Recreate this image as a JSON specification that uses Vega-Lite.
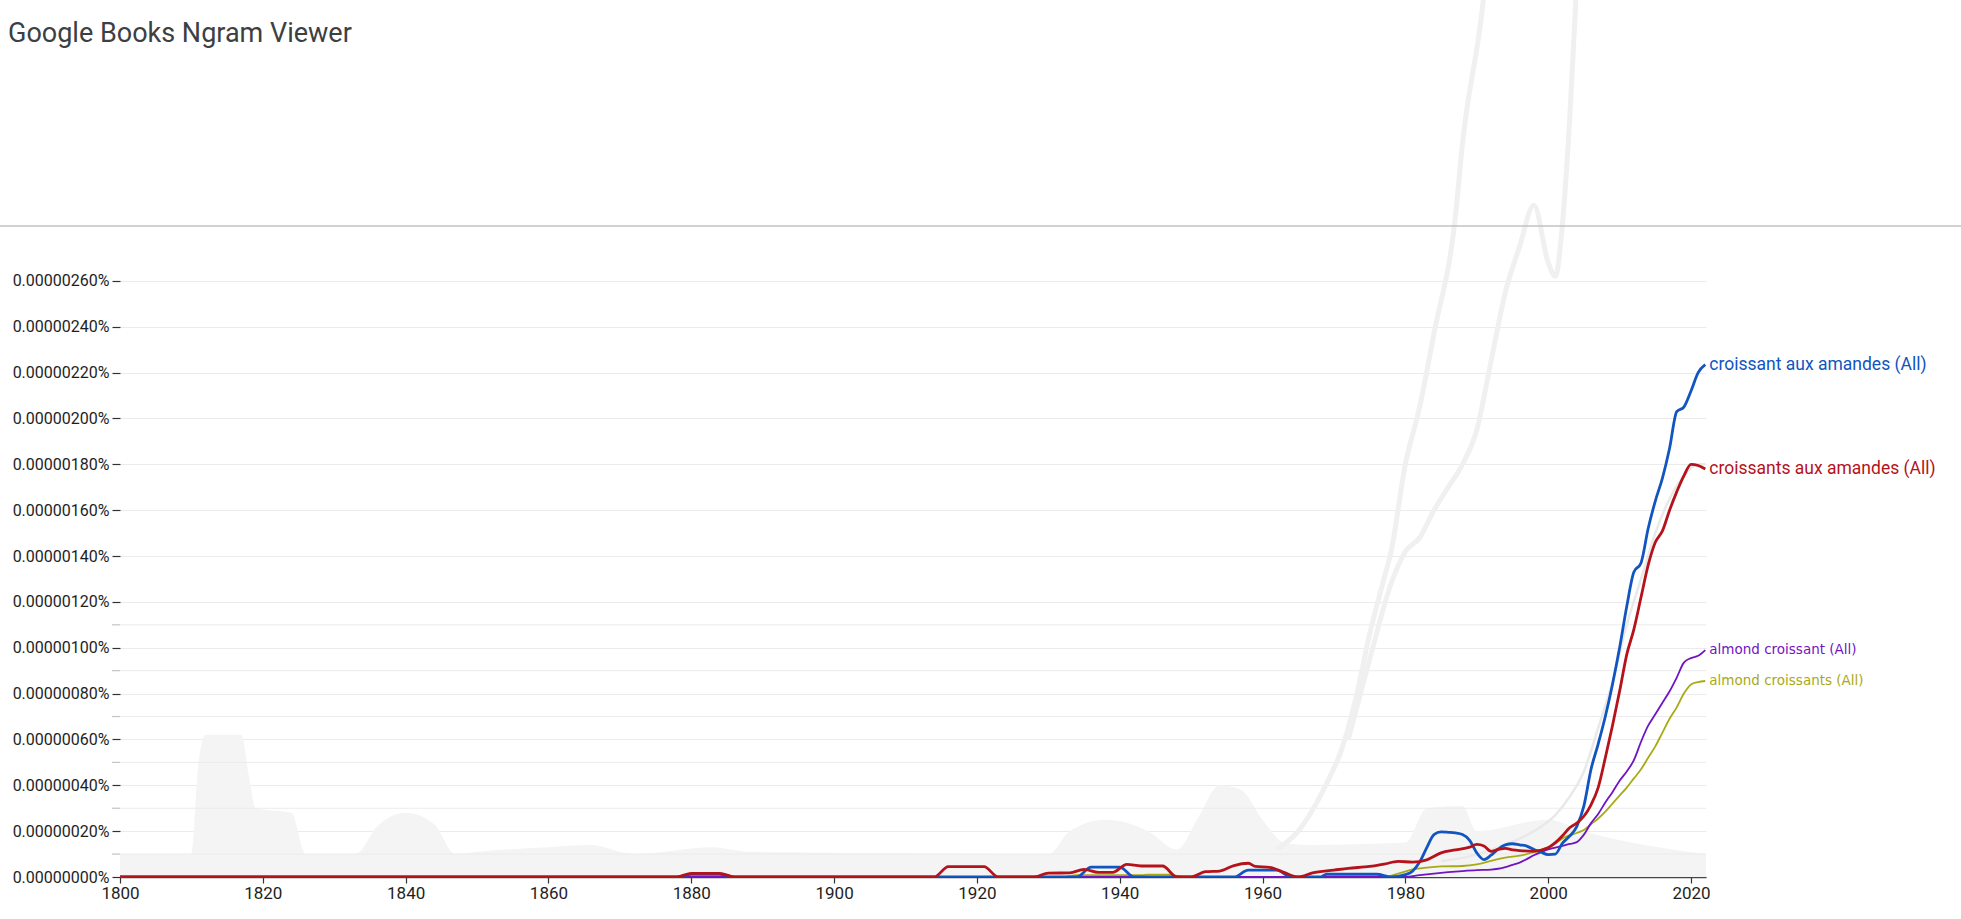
{
"$schema":"https://vega.github.io/schema/vega-lite/v6.json",
"width":1586,"height":877,
"autosize":{"type":"none"},
"padding":{"left":120,"top":0,"right":255,"bottom":42},
"background":"#ffffff",
"title":{"text":"Google Books Ngram Viewer","anchor":"start","frame":"group","dx":-112,"offset":-48,"font":"Roboto","fontSize":27,"fontWeight":"normal","color":"#3c4043"},
"config":{"view":{"stroke":null},"axis":{"labelFont":"Roboto","labelColor":"#1e1e1e","tickColor":"#333333"}},
"datasets":{
"bg":[
{"series":"band","year":1800,"value":1.0e-7},{"series":"band","year":1810,"value":1.0e-7},{"series":"band","year":1811,"value":5.0e-7},{"series":"band","year":1812,"value":6.2e-7},{"series":"band","year":1817,"value":6.2e-7},{"series":"band","year":1818,"value":4.5e-7},{"series":"band","year":1819,"value":3.0e-7},{"series":"band","year":1824,"value":2.8e-7},{"series":"band","year":1826,"value":1.0e-7},{"series":"band","year":1833,"value":1.0e-7},{"series":"band","year":1836,"value":2.2e-7},{"series":"band","year":1840,"value":2.8e-7},{"series":"band","year":1844,"value":2.3e-7},{"series":"band","year":1847,"value":1.0e-7},{"series":"band","year":1850,"value":1.1e-7},{"series":"band","year":1860,"value":1.3e-7},{"series":"band","year":1866,"value":1.4e-7},{"series":"band","year":1872,"value":1.0e-7},{"series":"band","year":1883,"value":1.3e-7},{"series":"band","year":1888,"value":1.1e-7},{"series":"band","year":1930,"value":1.0e-7},{"series":"band","year":1933,"value":2.0e-7},{"series":"band","year":1938,"value":2.5e-7},{"series":"band","year":1944,"value":2.0e-7},{"series":"band","year":1948,"value":1.2e-7},{"series":"band","year":1951,"value":2.6e-7},{"series":"band","year":1954,"value":4.0e-7},{"series":"band","year":1957,"value":3.8e-7},{"series":"band","year":1960,"value":2.5e-7},{"series":"band","year":1963,"value":1.5e-7},{"series":"band","year":1966,"value":1.4e-7},{"series":"band","year":1980,"value":1.5e-7},{"series":"band","year":1983,"value":3.0e-7},{"series":"band","year":1988,"value":3.1e-7},{"series":"band","year":1990,"value":2.0e-7},{"series":"band","year":2000,"value":2.5e-7},{"series":"band","year":2005,"value":2.0e-7},{"series":"band","year":2022.1,"value":1.0e-7},
{"series":"g1","year":1962,"value":1.2e-7},{"series":"g1","year":1965,"value":2.0e-7},{"series":"g1","year":1969,"value":4.1e-7},{"series":"g1","year":1971,"value":5.5e-7},{"series":"g1","year":1973,"value":7.7e-7},{"series":"g1","year":1975,"value":1.06e-6},{"series":"g1","year":1977,"value":1.3e-6},{"series":"g1","year":1978,"value":1.42e-6},{"series":"g1","year":1980,"value":1.8e-6},{"series":"g1","year":1982,"value":2.05e-6},{"series":"g1","year":1984,"value":2.37e-6},{"series":"g1","year":1987,"value":2.88e-6},{"series":"g1","year":1988,"value":3.2e-6},{"series":"g1","year":1991,"value":3.85e-6},{"series":"g1","year":1993,"value":4.6e-6},
{"series":"g2","year":1972,"value":6.0e-7},{"series":"g2","year":1975,"value":9.5e-7},{"series":"g2","year":1978,"value":1.28e-6},{"series":"g2","year":1980,"value":1.42e-6},{"series":"g2","year":1982,"value":1.48e-6},{"series":"g2","year":1984,"value":1.6e-6},{"series":"g2","year":1986,"value":1.7e-6},{"series":"g2","year":1988,"value":1.8e-6},{"series":"g2","year":1990,"value":1.95e-6},{"series":"g2","year":1992,"value":2.25e-6},{"series":"g2","year":1994,"value":2.55e-6},{"series":"g2","year":1996,"value":2.75e-6},{"series":"g2","year":1998,"value":2.93e-6},{"series":"g2","year":2000,"value":2.68e-6},{"series":"g2","year":2001,"value":2.62e-6},{"series":"g2","year":2002,"value":2.85e-6},{"series":"g2","year":2003,"value":3.3e-6},{"series":"g2","year":2004,"value":3.9e-6},{"series":"g2","year":2006,"value":4.8e-6},
{"series":"g3","year":1985,"value":7e-8},{"series":"g3","year":1989,"value":9e-8},{"series":"g3","year":1993,"value":1.3e-7},{"series":"g3","year":1998,"value":2.0e-7},{"series":"g3","year":2001,"value":2.7e-7},{"series":"g3","year":2003,"value":3.5e-7},{"series":"g3","year":2005,"value":4.6e-7},{"series":"g3","year":2007,"value":6.5e-7},{"series":"g3","year":2009,"value":8.5e-7},{"series":"g3","year":2011,"value":1.1e-6},{"series":"g3","year":2013,"value":1.3e-6},{"series":"g3","year":2015,"value":1.5e-6},{"series":"g3","year":2017,"value":1.65e-6},{"series":"g3","year":2019,"value":1.75e-6},{"series":"g3","year":2021,"value":1.8e-6},{"series":"g3","year":2022,"value":1.8e-6}
],
"minor":[{"value":1e-7},{"value":3e-7},{"value":5e-7},{"value":7e-7},{"value":9e-7},{"value":1.1e-6}],
"ngram":[
{"series":"almond croissants (All)","year":1800,"value":0},{"series":"almond croissants (All)","year":1932,"value":0},{"series":"almond croissants (All)","year":1934,"value":8e-9},{"series":"almond croissants (All)","year":1943,"value":8e-9},{"series":"almond croissants (All)","year":1944,"value":1e-8},{"series":"almond croissants (All)","year":1947,"value":1e-8},{"series":"almond croissants (All)","year":1949,"value":0},{"series":"almond croissants (All)","year":1977,"value":0},{"series":"almond croissants (All)","year":1979,"value":1.5e-8},{"series":"almond croissants (All)","year":1981,"value":3.3e-8},{"series":"almond croissants (All)","year":1983,"value":4.1e-8},{"series":"almond croissants (All)","year":1985,"value":4.6e-8},{"series":"almond croissants (All)","year":1988,"value":4.8e-8},{"series":"almond croissants (All)","year":1990,"value":5.5e-8},{"series":"almond croissants (All)","year":1992,"value":7.0e-8},{"series":"almond croissants (All)","year":1994,"value":8.5e-8},{"series":"almond croissants (All)","year":1996,"value":9.3e-8},{"series":"almond croissants (All)","year":1998,"value":1.08e-7},{"series":"almond croissants (All)","year":1999,"value":1.19e-7},{"series":"almond croissants (All)","year":2000,"value":1.3e-7},{"series":"almond croissants (All)","year":2001,"value":1.45e-7},{"series":"almond croissants (All)","year":2002,"value":1.68e-7},{"series":"almond croissants (All)","year":2003,"value":1.82e-7},{"series":"almond croissants (All)","year":2004,"value":1.92e-7},{"series":"almond croissants (All)","year":2005,"value":2.05e-7},{"series":"almond croissants (All)","year":2006,"value":2.3e-7},{"series":"almond croissants (All)","year":2007,"value":2.55e-7},{"series":"almond croissants (All)","year":2008,"value":2.85e-7},{"series":"almond croissants (All)","year":2009,"value":3.2e-7},{"series":"almond croissants (All)","year":2010,"value":3.55e-7},{"series":"almond croissants (All)","year":2011,"value":3.9e-7},{"series":"almond croissants (All)","year":2012,"value":4.3e-7},{"series":"almond croissants (All)","year":2013,"value":4.7e-7},{"series":"almond croissants (All)","year":2014,"value":5.2e-7},{"series":"almond croissants (All)","year":2015,"value":5.7e-7},{"series":"almond croissants (All)","year":2016,"value":6.3e-7},{"series":"almond croissants (All)","year":2017,"value":6.9e-7},{"series":"almond croissants (All)","year":2018,"value":7.4e-7},{"series":"almond croissants (All)","year":2019,"value":8.0e-7},{"series":"almond croissants (All)","year":2020,"value":8.4e-7},{"series":"almond croissants (All)","year":2021,"value":8.5e-7},{"series":"almond croissants (All)","year":2022,"value":8.55e-7},
{"series":"almond croissant (All)","year":1800,"value":0},{"series":"almond croissant (All)","year":1980,"value":0},{"series":"almond croissant (All)","year":1982,"value":8e-9},{"series":"almond croissant (All)","year":1984,"value":1.5e-8},{"series":"almond croissant (All)","year":1986,"value":2.1e-8},{"series":"almond croissant (All)","year":1988,"value":2.6e-8},{"series":"almond croissant (All)","year":1990,"value":3.0e-8},{"series":"almond croissant (All)","year":1992,"value":3.2e-8},{"series":"almond croissant (All)","year":1993,"value":3.6e-8},{"series":"almond croissant (All)","year":1994,"value":4.3e-8},{"series":"almond croissant (All)","year":1995,"value":5.3e-8},{"series":"almond croissant (All)","year":1996,"value":6.3e-8},{"series":"almond croissant (All)","year":1997,"value":7.8e-8},{"series":"almond croissant (All)","year":1998,"value":9.5e-8},{"series":"almond croissant (All)","year":1999,"value":1.08e-7},{"series":"almond croissant (All)","year":2000,"value":1.2e-7},{"series":"almond croissant (All)","year":2001,"value":1.28e-7},{"series":"almond croissant (All)","year":2002,"value":1.36e-7},{"series":"almond croissant (All)","year":2003,"value":1.44e-7},{"series":"almond croissant (All)","year":2004,"value":1.52e-7},{"series":"almond croissant (All)","year":2005,"value":1.85e-7},{"series":"almond croissant (All)","year":2006,"value":2.35e-7},{"series":"almond croissant (All)","year":2007,"value":2.75e-7},{"series":"almond croissant (All)","year":2008,"value":3.25e-7},{"series":"almond croissant (All)","year":2009,"value":3.7e-7},{"series":"almond croissant (All)","year":2010,"value":4.2e-7},{"series":"almond croissant (All)","year":2011,"value":4.6e-7},{"series":"almond croissant (All)","year":2012,"value":5.1e-7},{"series":"almond croissant (All)","year":2013,"value":5.9e-7},{"series":"almond croissant (All)","year":2014,"value":6.6e-7},{"series":"almond croissant (All)","year":2015,"value":7.1e-7},{"series":"almond croissant (All)","year":2016,"value":7.6e-7},{"series":"almond croissant (All)","year":2017,"value":8.1e-7},{"series":"almond croissant (All)","year":2018,"value":8.7e-7},{"series":"almond croissant (All)","year":2019,"value":9.35e-7},{"series":"almond croissant (All)","year":2020,"value":9.55e-7},{"series":"almond croissant (All)","year":2021,"value":9.65e-7},{"series":"almond croissant (All)","year":2022,"value":9.9e-7},
{"series":"croissant aux amandes (All)","year":1800,"value":0},{"series":"croissant aux amandes (All)","year":1878,"value":0},{"series":"croissant aux amandes (All)","year":1880,"value":1.2e-8},{"series":"croissant aux amandes (All)","year":1884,"value":1.2e-8},{"series":"croissant aux amandes (All)","year":1886,"value":0},{"series":"croissant aux amandes (All)","year":1934,"value":0},{"series":"croissant aux amandes (All)","year":1936,"value":4.3e-8},{"series":"croissant aux amandes (All)","year":1940,"value":4.3e-8},{"series":"croissant aux amandes (All)","year":1942,"value":0},{"series":"croissant aux amandes (All)","year":1956,"value":0},{"series":"croissant aux amandes (All)","year":1958,"value":3e-8},{"series":"croissant aux amandes (All)","year":1962,"value":3e-8},{"series":"croissant aux amandes (All)","year":1964,"value":0},{"series":"croissant aux amandes (All)","year":1968,"value":0},{"series":"croissant aux amandes (All)","year":1969,"value":1.2e-8},{"series":"croissant aux amandes (All)","year":1976,"value":1.2e-8},{"series":"croissant aux amandes (All)","year":1978,"value":0},{"series":"croissant aux amandes (All)","year":1980,"value":1.0e-8},{"series":"croissant aux amandes (All)","year":1981,"value":2.5e-8},{"series":"croissant aux amandes (All)","year":1982,"value":6.5e-8},{"series":"croissant aux amandes (All)","year":1983,"value":1.28e-7},{"series":"croissant aux amandes (All)","year":1984,"value":1.85e-7},{"series":"croissant aux amandes (All)","year":1985,"value":1.97e-7},{"series":"croissant aux amandes (All)","year":1986,"value":1.95e-7},{"series":"croissant aux amandes (All)","year":1987,"value":1.92e-7},{"series":"croissant aux amandes (All)","year":1988,"value":1.85e-7},{"series":"croissant aux amandes (All)","year":1989,"value":1.6e-7},{"series":"croissant aux amandes (All)","year":1990,"value":1.05e-7},{"series":"croissant aux amandes (All)","year":1991,"value":7.6e-8},{"series":"croissant aux amandes (All)","year":1992,"value":9.5e-8},{"series":"croissant aux amandes (All)","year":1993,"value":1.22e-7},{"series":"croissant aux amandes (All)","year":1994,"value":1.4e-7},{"series":"croissant aux amandes (All)","year":1995,"value":1.45e-7},{"series":"croissant aux amandes (All)","year":1996,"value":1.4e-7},{"series":"croissant aux amandes (All)","year":1997,"value":1.35e-7},{"series":"croissant aux amandes (All)","year":1998,"value":1.2e-7},{"series":"croissant aux amandes (All)","year":1999,"value":1.08e-7},{"series":"croissant aux amandes (All)","year":2000,"value":9.8e-8},{"series":"croissant aux amandes (All)","year":2001,"value":1.0e-7},{"series":"croissant aux amandes (All)","year":2002,"value":1.48e-7},{"series":"croissant aux amandes (All)","year":2003,"value":1.78e-7},{"series":"croissant aux amandes (All)","year":2004,"value":2.2e-7},{"series":"croissant aux amandes (All)","year":2005,"value":3.1e-7},{"series":"croissant aux amandes (All)","year":2006,"value":4.7e-7},{"series":"croissant aux amandes (All)","year":2007,"value":5.8e-7},{"series":"croissant aux amandes (All)","year":2008,"value":7.0e-7},{"series":"croissant aux amandes (All)","year":2009,"value":8.4e-7},{"series":"croissant aux amandes (All)","year":2010,"value":1.0e-6},{"series":"croissant aux amandes (All)","year":2011,"value":1.18e-6},{"series":"croissant aux amandes (All)","year":2012,"value":1.33e-6},{"series":"croissant aux amandes (All)","year":2013,"value":1.37e-6},{"series":"croissant aux amandes (All)","year":2014,"value":1.52e-6},{"series":"croissant aux amandes (All)","year":2015,"value":1.64e-6},{"series":"croissant aux amandes (All)","year":2016,"value":1.74e-6},{"series":"croissant aux amandes (All)","year":2017,"value":1.87e-6},{"series":"croissant aux amandes (All)","year":2018,"value":2.03e-6},{"series":"croissant aux amandes (All)","year":2019,"value":2.05e-6},{"series":"croissant aux amandes (All)","year":2020,"value":2.12e-6},{"series":"croissant aux amandes (All)","year":2021,"value":2.2e-6},{"series":"croissant aux amandes (All)","year":2022,"value":2.235e-6},
{"series":"croissants aux amandes (All)","year":1800,"value":0},{"series":"croissants aux amandes (All)","year":1878,"value":0},{"series":"croissants aux amandes (All)","year":1880,"value":1.6e-8},{"series":"croissants aux amandes (All)","year":1884,"value":1.6e-8},{"series":"croissants aux amandes (All)","year":1886,"value":0},{"series":"croissants aux amandes (All)","year":1914,"value":0},{"series":"croissants aux amandes (All)","year":1916,"value":4.5e-8},{"series":"croissants aux amandes (All)","year":1921,"value":4.5e-8},{"series":"croissants aux amandes (All)","year":1923,"value":0},{"series":"croissants aux amandes (All)","year":1928,"value":0},{"series":"croissants aux amandes (All)","year":1930,"value":1.7e-8},{"series":"croissants aux amandes (All)","year":1933,"value":1.8e-8},{"series":"croissants aux amandes (All)","year":1935,"value":3.3e-8},{"series":"croissants aux amandes (All)","year":1937,"value":2.0e-8},{"series":"croissants aux amandes (All)","year":1939,"value":2.0e-8},{"series":"croissants aux amandes (All)","year":1941,"value":5.5e-8},{"series":"croissants aux amandes (All)","year":1943,"value":4.8e-8},{"series":"croissants aux amandes (All)","year":1946,"value":4.8e-8},{"series":"croissants aux amandes (All)","year":1948,"value":0},{"series":"croissants aux amandes (All)","year":1950,"value":0},{"series":"croissants aux amandes (All)","year":1952,"value":2.3e-8},{"series":"croissants aux amandes (All)","year":1954,"value":2.6e-8},{"series":"croissants aux amandes (All)","year":1956,"value":5.0e-8},{"series":"croissants aux amandes (All)","year":1958,"value":6.0e-8},{"series":"croissants aux amandes (All)","year":1959,"value":4.6e-8},{"series":"croissants aux amandes (All)","year":1961,"value":4.2e-8},{"series":"croissants aux amandes (All)","year":1963,"value":2.0e-8},{"series":"croissants aux amandes (All)","year":1965,"value":0},{"series":"croissants aux amandes (All)","year":1967,"value":1.8e-8},{"series":"croissants aux amandes (All)","year":1970,"value":3.0e-8},{"series":"croissants aux amandes (All)","year":1972,"value":3.8e-8},{"series":"croissants aux amandes (All)","year":1975,"value":4.6e-8},{"series":"croissants aux amandes (All)","year":1977,"value":5.6e-8},{"series":"croissants aux amandes (All)","year":1979,"value":6.8e-8},{"series":"croissants aux amandes (All)","year":1981,"value":6.5e-8},{"series":"croissants aux amandes (All)","year":1983,"value":7.5e-8},{"series":"croissants aux amandes (All)","year":1985,"value":1.05e-7},{"series":"croissants aux amandes (All)","year":1987,"value":1.18e-7},{"series":"croissants aux amandes (All)","year":1989,"value":1.3e-7},{"series":"croissants aux amandes (All)","year":1990,"value":1.42e-7},{"series":"croissants aux amandes (All)","year":1991,"value":1.35e-7},{"series":"croissants aux amandes (All)","year":1992,"value":1.12e-7},{"series":"croissants aux amandes (All)","year":1993,"value":1.2e-7},{"series":"croissants aux amandes (All)","year":1994,"value":1.25e-7},{"series":"croissants aux amandes (All)","year":1995,"value":1.18e-7},{"series":"croissants aux amandes (All)","year":1996,"value":1.15e-7},{"series":"croissants aux amandes (All)","year":1998,"value":1.13e-7},{"series":"croissants aux amandes (All)","year":2000,"value":1.28e-7},{"series":"croissants aux amandes (All)","year":2001,"value":1.5e-7},{"series":"croissants aux amandes (All)","year":2002,"value":1.8e-7},{"series":"croissants aux amandes (All)","year":2003,"value":2.15e-7},{"series":"croissants aux amandes (All)","year":2004,"value":2.35e-7},{"series":"croissants aux amandes (All)","year":2005,"value":2.65e-7},{"series":"croissants aux amandes (All)","year":2006,"value":3.15e-7},{"series":"croissants aux amandes (All)","year":2007,"value":3.9e-7},{"series":"croissants aux amandes (All)","year":2008,"value":5.2e-7},{"series":"croissants aux amandes (All)","year":2009,"value":6.6e-7},{"series":"croissants aux amandes (All)","year":2010,"value":8.1e-7},{"series":"croissants aux amandes (All)","year":2011,"value":9.7e-7},{"series":"croissants aux amandes (All)","year":2012,"value":1.08e-6},{"series":"croissants aux amandes (All)","year":2013,"value":1.22e-6},{"series":"croissants aux amandes (All)","year":2014,"value":1.36e-6},{"series":"croissants aux amandes (All)","year":2015,"value":1.46e-6},{"series":"croissants aux amandes (All)","year":2016,"value":1.51e-6},{"series":"croissants aux amandes (All)","year":2017,"value":1.6e-6},{"series":"croissants aux amandes (All)","year":2018,"value":1.68e-6},{"series":"croissants aux amandes (All)","year":2019,"value":1.75e-6},{"series":"croissants aux amandes (All)","year":2020,"value":1.8e-6},{"series":"croissants aux amandes (All)","year":2021,"value":1.795e-6},{"series":"croissants aux amandes (All)","year":2022,"value":1.78e-6}
]
},
"layer":[
{"data":{"name":"bg"},"transform":[{"filter":"datum.series === 'band'"}],
 "mark":{"type":"area","color":"#f4f4f4","interpolate":"monotone","clip":true},
 "encoding":{
  "x":{"field":"year","type":"quantitative","title":null,"scale":{"domain":[1800,2022.1],"nice":false,"zero":false},
   "axis":{"values":[1800,1820,1840,1860,1880,1900,1920,1940,1960,1980,2000,2020],"format":"d","grid":false,"tickSize":6,"tickWidth":1.2,"labelFontSize":17,"labelPadding":2,"labelFlush":false,"domainColor":"#444444","domainWidth":1.5}},
  "y":{"field":"value","type":"quantitative","title":null,"scale":{"domain":[0,3.8255e-6],"nice":false,"zero":false},
   "axis":{"values":[0,2e-7,4e-7,6e-7,8e-7,1e-6,1.2e-6,1.4e-6,1.6e-6,1.8e-6,2e-6,2.2e-6,2.4e-6,2.6e-6],"labelExpr":"format(datum.value,'.8f') + '%'","grid":true,"gridColor":"#ebebeb","domain":false,"tickSize":8,"tickWidth":1.2,"labelFontSize":16,"labelPadding":3,"labelOverlap":false}}}},
{"data":{"name":"minor"},"mark":{"type":"rule","color":"#ebebeb","strokeWidth":1},
 "encoding":{"y":{"field":"value","type":"quantitative","title":null}}},
{"data":{"name":"minor"},"mark":{"type":"rule","color":"#c4c4c4","strokeWidth":1.2,"clip":false},
 "encoding":{"y":{"field":"value","type":"quantitative","title":null},"x":{"datum":1798.88,"type":"quantitative","title":null},"x2":{"datum":1800}}},
{"data":{"name":"bg"},"transform":[{"filter":"datum.series === 'g1' || datum.series === 'g2'"}],
 "mark":{"type":"line","color":"#f0f0f0","strokeWidth":5,"interpolate":"monotone","clip":true},
 "encoding":{"x":{"field":"year","type":"quantitative","title":null},"y":{"field":"value","type":"quantitative","title":null},"detail":{"field":"series"}}},
{"data":{"name":"bg"},"transform":[{"filter":"datum.series === 'g3'"}],
 "mark":{"type":"line","color":"#e9e9e9","strokeWidth":2.5,"interpolate":"monotone","clip":true},
 "encoding":{"x":{"field":"year","type":"quantitative","title":null},"y":{"field":"value","type":"quantitative","title":null}}},
{"data":{"values":[{"edge":"header"}]},"mark":{"type":"rule","color":"#c2c2c2","strokeWidth":1.5,"clip":false},
 "encoding":{"y":{"datum":2.84e-6,"type":"quantitative","title":null},"x":{"datum":1783,"type":"quantitative","title":null},"x2":{"datum":2058}}},
{"data":{"name":"ngram"},"transform":[{"filter":"indexof(datum.series,'almond') === 0"}],
 "mark":{"type":"line","strokeWidth":1.8,"interpolate":"monotone","clip":true},
 "encoding":{"x":{"field":"year","type":"quantitative","title":null},"y":{"field":"value","type":"quantitative","title":null},
  "color":{"field":"series","type":"nominal","legend":null,"scale":{"domain":["croissant aux amandes (All)","croissants aux amandes (All)","almond croissant (All)","almond croissants (All)"],"range":["#1155c0","#b5121b","#7014c4","#a7aa14"]}}}},
{"data":{"name":"ngram"},"transform":[{"filter":"datum.series === 'croissant aux amandes (All)'"}],
 "mark":{"type":"line","strokeWidth":2.8,"interpolate":"monotone","clip":true},
 "encoding":{"x":{"field":"year","type":"quantitative","title":null},"y":{"field":"value","type":"quantitative","title":null},"color":{"field":"series","type":"nominal","legend":null}}},
{"data":{"name":"ngram"},"transform":[{"filter":"datum.series === 'croissants aux amandes (All)'"}],
 "mark":{"type":"line","strokeWidth":2.8,"interpolate":"monotone","clip":true},
 "encoding":{"x":{"field":"year","type":"quantitative","title":null},"y":{"field":"value","type":"quantitative","title":null},"color":{"field":"series","type":"nominal","legend":null}}},
{"data":{"name":"ngram"},"transform":[{"filter":"datum.year === 2022 && indexof(datum.series,'croissant') === 0"}],
 "mark":{"type":"text","align":"left","baseline":"middle","dx":4,"font":"Roboto","fontSize":17.5,"clip":false},
 "encoding":{"x":{"field":"year","type":"quantitative","title":null},"y":{"field":"value","type":"quantitative","title":null},"text":{"field":"series"},"color":{"field":"series","type":"nominal","legend":null}}},
{"data":{"name":"ngram"},"transform":[{"filter":"datum.year === 2022 && indexof(datum.series,'almond') === 0"}],
 "mark":{"type":"text","align":"left","baseline":"middle","dx":4,"font":"DejaVu Sans","fontSize":13.5,"clip":false},
 "encoding":{"x":{"field":"year","type":"quantitative","title":null},"y":{"field":"value","type":"quantitative","title":null},"text":{"field":"series"},"color":{"field":"series","type":"nominal","legend":null}}}
]
}
